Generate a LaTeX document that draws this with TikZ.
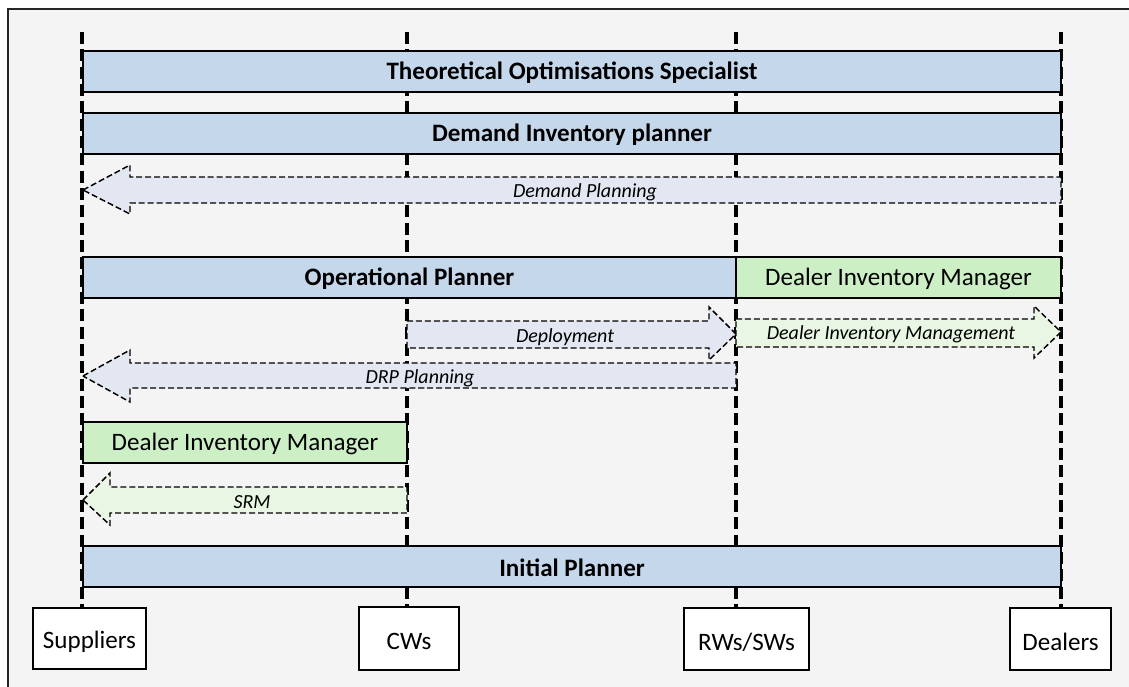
\documentclass[tikz,border=0pt]{standalone}
\usepackage{fontspec}
\setmainfont{Carlito}
\usetikzlibrary{fit}
\definecolor{bgray}{HTML}{F4F4F4}
\definecolor{barblue}{HTML}{C5D7EB}
\definecolor{bargreen}{HTML}{CDEFC5}
\definecolor{arrblue}{HTML}{E2E7F2}
\definecolor{arrgreen}{HTML}{EAF6E4}
\tikzset{
  lane/.style={line width=2.5pt, dash pattern=on 9pt off 4pt},
  rolebar/.style={draw=black, line width=1.2pt, inner sep=0pt},
  bluebar/.style={rolebar, fill=barblue},
  greenbar/.style={rolebar, fill=bargreen},
  flow/.style={draw=black, line width=1.1pt, dash pattern=on 4.5pt off 2.2pt},
  bluearrow/.style={flow, fill=arrblue},
  greenarrow/.style={flow, fill=arrgreen},
  flowlabel/.style={font=\itshape\fontsize{15}{18}\selectfont, yshift=-1pt},
  boldlabel/.style={font=\bfseries\fontsize{18.8}{22}\selectfont, yshift=-1pt},
  plainlabel/.style={font=\fontsize{18.8}{22}\selectfont, yshift=-1pt},
  site/.style={draw=black, line width=1.4pt, fill=white, inner sep=0pt},
  sitelabel/.style={font=\fontsize{18.8}{22}\selectfont, yshift=-2.5pt},
}
\begin{document}
\begin{tikzpicture}[x=0.75pt, y=-0.75pt]
\useasboundingbox (0,0) rectangle (1129,686);
\clip (0,0) rectangle (1129,686);
% frame and background
\fill[white] (0,0) rectangle (1129,686);
\draw[line width=1.1pt, draw=black!85, fill=bgray] (8,9) rectangle (1140,700);

% lanes
\coordinate (suptop) at (82,32);   \coordinate (supbot) at (82,608);
\coordinate (cwtop)  at (407,32);  \coordinate (cwbot)  at (407,608);
\coordinate (rwtop)  at (736,32);  \coordinate (rwbot)  at (736,608);
\coordinate (dltop)  at (1061,32); \coordinate (dlbot)  at (1061,608);
\draw[lane] (suptop) -- (supbot);
\draw[lane] (cwtop) -- (cwbot);
\draw[lane] (rwtop) -- (rwbot);
\draw[lane] (dltop) -- (dlbot);

% role bars
\node (tos) [bluebar, fit={(83,51) (1061,92)}] {};
\node[boldlabel] at (tos.center) {Theoretical Optimisations Specialist};
\node (dip) [bluebar, fit={(83,113) (1061,154)}] {};
\node[boldlabel] at (dip.center) {Demand Inventory planner};
\node (op) [bluebar, fit={(83,257) (736,298)}] {};
\node[boldlabel] at (op.center) {Operational Planner};
\node (dimr) [greenbar, fit={(736,257) (1061,298)}] {};
\node[plainlabel] at (dimr.center) {Dealer Inventory Manager};
\node (diml) [greenbar, fit={(83,422) (407,463)}] {};
\node[plainlabel] at (diml.center) {Dealer Inventory Manager};
\node (ip) [bluebar, fit={(83,546) (1061,587)}] {};
\node[boldlabel] at (ip.center) {Initial Planner};

% flows
\draw[bluearrow] (83,190) -- (130,165) -- (130,177) -- (1061,177) -- (1061,203) -- (130,203) -- (130,214) -- cycle;
\node[flowlabel] (dp) at (585,191) {Demand Planning};

\draw[bluearrow] (407,321) -- (709,321) -- (709,307) -- (736,334) -- (709,360) -- (709,348) -- (407,348) -- cycle;
\node[flowlabel] (dep) at (565,336) {Deployment};

\draw[greenarrow] (736,319) -- (1034,319) -- (1034,306) -- (1061,332) -- (1034,358) -- (1034,347) -- (736,347) -- cycle;
\node[flowlabel] (dim) at (891,333) {Dealer Inventory Management};

\draw[bluearrow] (83,376) -- (130,350) -- (130,363) -- (736,363) -- (736,388) -- (130,388) -- (130,402) -- cycle;
\node[flowlabel] (drp) at (420,377) {DRP Planning};

\draw[greenarrow] (83,500) -- (110,473) -- (110,487) -- (407,487) -- (407,513) -- (110,513) -- (110,525) -- cycle;
\node[flowlabel] (srm) at (252,501) {SRM};

% sites
\node (suppliers) [site, fit={(33,608) (146,669)}] {};
\node[sitelabel] at (suppliers.center) {Suppliers};
\node (cws) [site, fit={(359,607) (459,670)}] {};
\node[sitelabel] at (cws.center) {CWs};
\node (rws) [site, fit={(684,608) (809,670)}] {};
\node[sitelabel] at (rws.center) {RWs/SWs};
\node (dealers) [site, fit={(1010,608) (1111,670)}] {};
\node[sitelabel] at (dealers.center) {Dealers};
\end{tikzpicture}
\end{document}
